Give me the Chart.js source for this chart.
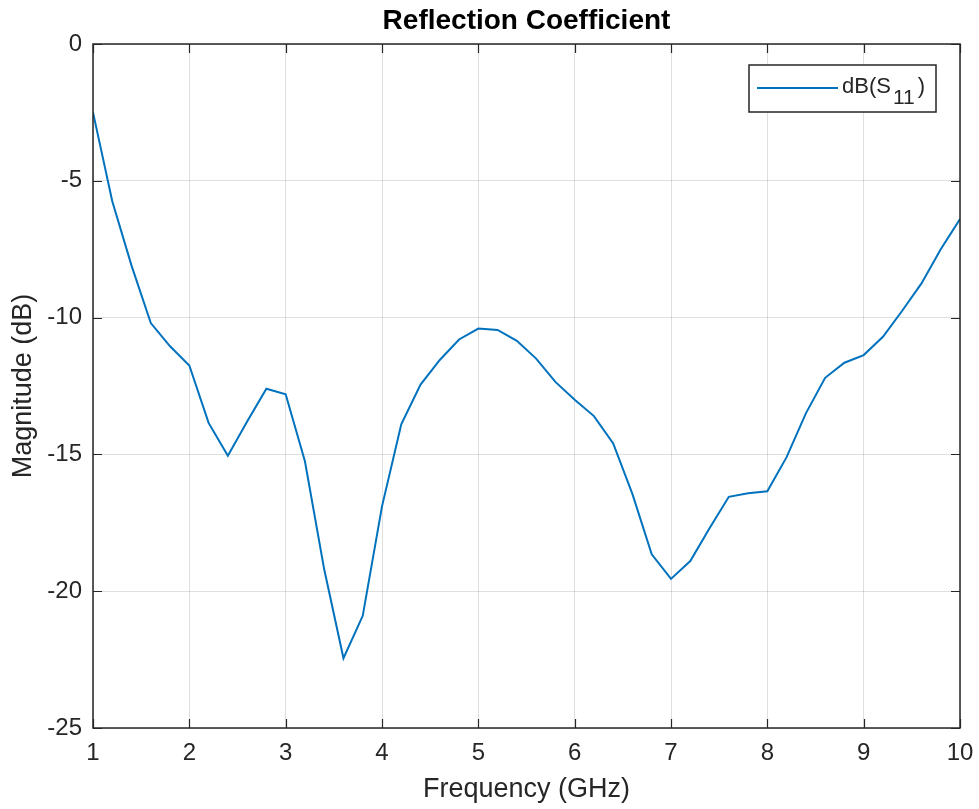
<!DOCTYPE html>
<html>
<head>
<meta charset="utf-8">
<title>Reflection Coefficient</title>
<script src="https://cdn.jsdelivr.net/npm/chart.js@4.4.1/dist/chart.umd.min.js"></script>
<style>
  html, body { margin: 0; padding: 0; background: #ffffff; }
  #wrap { width: 979px; height: 809px; }
</style>
</head>
<body>
<div id="wrap"><canvas id="s11Chart" width="979" height="809"></canvas></div>
<script>
// Frequency sweep (GHz)
const freqGHz = [
  1.0, 1.2, 1.4, 1.6, 1.8, 2.0, 2.2, 2.4, 2.6, 2.8,
  3.0, 3.2, 3.4, 3.6, 3.8, 4.0, 4.2, 4.4, 4.6, 4.8,
  5.0, 5.2, 5.4, 5.6, 5.8, 6.0, 6.2, 6.4, 6.6, 6.8,
  7.0, 7.2, 7.4, 7.6, 7.8, 8.0, 8.2, 8.4, 8.6, 8.8,
  9.0, 9.2, 9.4, 9.6, 9.8, 10.0
];

// dB(S11)
const s11dB = [
  -2.5, -5.75, -8.1, -10.2, -11.05, -11.75, -13.85, -15.05, -13.8, -12.6,
  -12.8, -15.25, -19.2, -22.45, -20.9, -16.9, -13.9, -12.45, -11.55, -10.8,
  -10.4, -10.45, -10.85, -11.5, -12.35, -13.0, -13.6, -14.6, -16.45, -18.65,
  -19.55, -18.9, -17.7, -16.55, -16.42, -16.35, -15.1, -13.5, -12.2, -11.65,
  -11.37, -10.7, -9.75, -8.75, -7.5, -6.4
];

const xTicks = [1, 2, 3, 4, 5, 6, 7, 8, 9, 10];
const yTicks = [-25, -20, -15, -10, -5, 0];

const chartTitle = 'Reflection Coefficient';
const xLabel = 'Frequency (GHz)';
const yLabel = 'Magnitude (dB)';
const legendMain = 'dB(S';
const legendSub = '11';
const legendEnd = ')';

const FONT = '"Liberation Sans", Arial, Helvetica, sans-serif';
const INK = '#262626';
const LINE_BLUE = '#0072BD';

/**
 * MATLAB-style box: full frame, inward ticks, title and legend
 */
const matlabFrame = {
  id: 'matlabFrame',
  afterDraw(chart) {
    const ctx = chart.ctx;
    const area = chart.chartArea;
    const xs = chart.scales.x;
    const ys = chart.scales.y;
    const tick = 9;

    ctx.save();
    ctx.strokeStyle = INK;
    ctx.lineWidth = 1.5;
    ctx.strokeRect(area.left, area.top, area.right - area.left, area.bottom - area.top);

    // inward tick marks on all four sides
    ctx.lineWidth = 1.2;
    ctx.beginPath();
    xTicks.forEach(v => {
      const px = Math.round(xs.getPixelForValue(v)) + 0.5;
      ctx.moveTo(px, area.bottom);
      ctx.lineTo(px, area.bottom - tick);
      ctx.moveTo(px, area.top);
      ctx.lineTo(px, area.top + tick);
    });
    yTicks.forEach(v => {
      const py = Math.round(ys.getPixelForValue(v)) + 0.5;
      ctx.moveTo(area.left, py);
      ctx.lineTo(area.left + tick, py);
      ctx.moveTo(area.right, py);
      ctx.lineTo(area.right - tick, py);
    });
    ctx.stroke();

    // title centred over the axes
    ctx.fillStyle = '#000000';
    ctx.font = 'bold 28px ' + FONT;
    ctx.textAlign = 'center';
    ctx.textBaseline = 'middle';
    ctx.fillText(chartTitle, (area.left + area.right) / 2, 21);

    // legend box
    const bx = area.right - 211;
    const by = area.top + 21;
    const bw = 187;
    const bh = 47;
    ctx.fillStyle = '#ffffff';
    ctx.fillRect(bx, by, bw, bh);
    ctx.strokeStyle = INK;
    ctx.lineWidth = 1.5;
    ctx.strokeRect(bx, by, bw, bh);

    ctx.strokeStyle = LINE_BLUE;
    ctx.lineWidth = 2;
    ctx.beginPath();
    ctx.moveTo(bx + 8, by + 23);
    ctx.lineTo(bx + 89, by + 23);
    ctx.stroke();

    ctx.fillStyle = INK;
    ctx.textAlign = 'left';
    ctx.textBaseline = 'alphabetic';
    let tx = bx + 93;
    ctx.font = '22px ' + FONT;
    ctx.fillText(legendMain, tx, by + 28);
    tx += ctx.measureText(legendMain).width + 2;
    ctx.font = '21px ' + FONT;
    ctx.fillText(legendSub, tx, by + 39);
    tx += ctx.measureText(legendSub).width + 3;
    ctx.font = '22px ' + FONT;
    ctx.fillText(legendEnd, tx, by + 28);
    ctx.restore();
  }
};

const points = freqGHz.map((f, i) => ({ x: f, y: s11dB[i] }));

new Chart(document.getElementById('s11Chart'), {
  type: 'line',
  data: {
    datasets: [{
      label: 'dB(S11)',
      data: points,
      borderColor: LINE_BLUE,
      borderWidth: 2,
      pointRadius: 0,
      tension: 0,
      fill: false
    }]
  },
  options: {
    responsive: false,
    animation: false,
    layout: {
      padding: { top: 44, right: 19, bottom: 0, left: 0 }
    },
    plugins: {
      legend: { display: false },
      title: { display: false },
      tooltip: { enabled: false }
    },
    scales: {
      x: {
        type: 'linear',
        min: 1,
        max: 10,
        afterBuildTicks: scale => {
          scale.ticks = xTicks.map(v => ({ value: v }));
        },
        afterFit: scale => {
          scale.height = 81;
          scale.paddingLeft = 0;
          scale.paddingRight = 0;
        },
        grid: {
          color: 'rgba(38,38,38,0.15)',
          lineWidth: 1,
          drawTicks: false
        },
        border: { display: false },
        ticks: {
          color: INK,
          font: { family: FONT, size: 24 },
          padding: 11,
          maxRotation: 0
        },
        title: {
          display: true,
          text: xLabel,
          color: INK,
          font: { family: FONT, size: 27 },
          padding: { top: 0, bottom: 3 }
        }
      },
      y: {
        type: 'linear',
        min: -25,
        max: 0,
        afterBuildTicks: scale => {
          scale.ticks = yTicks.map(v => ({ value: v }));
        },
        afterFit: scale => {
          scale.width = 93;
          scale.paddingTop = 0;
          scale.paddingBottom = 0;
        },
        grid: {
          color: 'rgba(38,38,38,0.15)',
          lineWidth: 1,
          drawTicks: false
        },
        border: { display: false },
        ticks: {
          color: INK,
          font: { family: FONT, size: 24 },
          padding: 11
        },
        title: {
          display: true,
          text: yLabel,
          color: INK,
          font: { family: FONT, size: 27 },
          padding: { top: 7, bottom: 0 }
        }
      }
    }
  },
  plugins: [matlabFrame]
});
</script>
</body>
</html>
